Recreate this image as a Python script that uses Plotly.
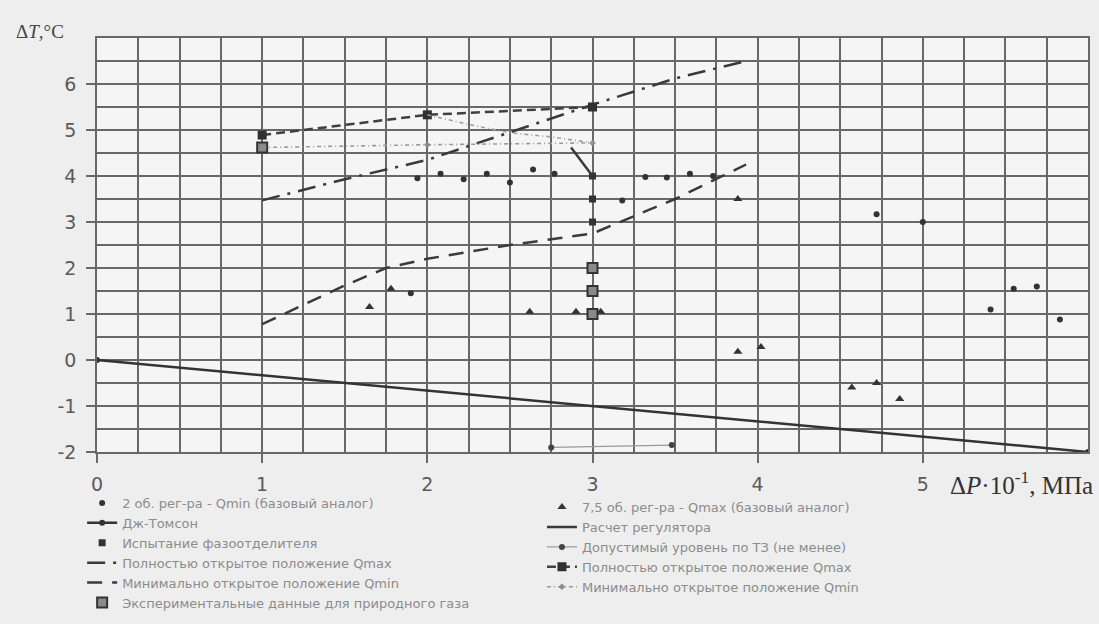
import plotly.graph_objects as go

# ---------------- data ----------------
# 2 об. рег-ра - Qmin (базовый аналог)
dots_x = [1.9, 1.94, 2.08, 2.22, 2.36, 2.5, 2.64, 2.77, 3.18, 3.32, 3.45, 3.59, 3.73, 4.72, 5.0, 5.41, 5.55, 5.69, 5.83]
dots_y = [1.45, 3.95, 4.05, 3.93, 4.05, 3.86, 4.14, 4.05, 3.47, 3.98, 3.97, 4.05, 4.0, 3.17, 3.0, 1.1, 1.55, 1.6, 0.88]
# 7,5 об. рег-ра - Qmax (базовый аналог)
tri_x = [1.65, 1.78, 2.62, 2.9, 3.05, 3.88, 3.88, 4.02, 4.57, 4.72, 4.86]
tri_y = [1.15, 1.55, 1.05, 1.05, 1.05, 3.5, 0.18, 0.28, -0.6, -0.5, -0.85]
# Дж-Томсон
jt_x = [0, 6]
jt_y = [0, -2]
# Расчет регулятора
calc_x = [2.87, 3.0]
calc_y = [4.62, 4.0]
# Испытание фазоотделителя
sep_x = [3, 3, 3]
sep_y = [4.0, 3.5, 3.0]
# Допустимый уровень по ТЗ (не менее)
lvl_x = [2.75, 3.48]
lvl_y = [-1.9, -1.85]
# Полностью открытое положение Qmax (штрих-пунктир)
qmaxdd_x = [1.0, 1.5, 2.0, 2.5, 3.0, 3.5, 3.93]
qmaxdd_y = [3.47, 3.93, 4.35, 4.95, 5.55, 6.12, 6.5]
# Минимально открытое положение Qmin (штрих)
qmind_x = [1.0, 1.5, 1.75, 2.0, 2.5, 3.0, 3.5, 3.93]
qmind_y = [0.78, 1.62, 2.0, 2.2, 2.5, 2.75, 3.5, 4.25]
# Полностью открытое положение Qmax (маркеры)
qmaxm_x = [1, 2, 3]
qmaxm_y = [4.89, 5.33, 5.5]
# Минимально открытое положение Qmin (маркеры)
qminm_x = [1, 2, 3]
qminm_y = [4.62, 4.68, 4.72]
# дополнительная светлая линия
extra_x = [2, 2.25, 2.5, 2.75, 3]
extra_y = [5.33, 5.12, 4.94, 4.85, 4.72]
# Экспериментальные данные для природного газа
exp_x = [1, 3, 3, 3]
exp_y = [4.62, 2.0, 1.5, 1.0]

x_ticks = [0, 1, 2, 3, 4, 5]
x_ticklabels = ["0", "1", "2", "3", "4", "5"]
y_ticks = [-2, -1, 0, 1, 2, 3, 4, 5, 6]
y_ticklabels = ["-2", "-1", "0", "1", "2", "3", "4", "5", "6"]

DARK = "#333333"
GRID = "#686868"
BG = "#eeeeee"

fig = go.Figure()

# ---- left legend column ----
fig.add_trace(go.Scatter(x=dots_x, y=dots_y, mode="markers", name="2 об. рег-ра - Qmin (базовый аналог)",
                         marker=dict(symbol="circle", size=6, color=DARK), legend="legend"))
fig.add_trace(go.Scatter(x=jt_x, y=jt_y, mode="lines+markers", name="Дж-Томсон",
                         line=dict(color=DARK, width=2.5), marker=dict(symbol="circle", size=6, color=DARK),
                         legend="legend"))
fig.add_trace(go.Scatter(x=sep_x, y=sep_y, mode="markers", name="Испытание фазоотделителя",
                         marker=dict(symbol="square", size=7, color=DARK), legend="legend"))
fig.add_trace(go.Scatter(x=qmaxdd_x, y=qmaxdd_y, mode="lines", name="Полностью открытое положение Qmax",
                         line=dict(color="#3a3a3a", width=2.5, dash="18px,8px,3px,8px"), legend="legend"))
fig.add_trace(go.Scatter(x=qmind_x, y=qmind_y, mode="lines", name="Минимально открытое положение Qmin",
                         line=dict(color="#3a3a3a", width=2.5, dash="15px,10px"), legend="legend"))
fig.add_trace(go.Scatter(x=exp_x, y=exp_y, mode="markers", name="Экспериментальные данные для природного газа",
                         marker=dict(symbol="square", size=10, color="#8a8a8a", line=dict(color=DARK, width=2)),
                         legend="legend"))

# ---- right legend column ----
fig.add_trace(go.Scatter(x=tri_x, y=tri_y, mode="markers", name="7,5 об. рег-ра - Qmax (базовый аналог)",
                         marker=dict(symbol="triangle-up", size=8, color=DARK), legend="legend2"))
fig.add_trace(go.Scatter(x=calc_x, y=calc_y, mode="lines", name="Расчет регулятора",
                         line=dict(color="#3a3a3a", width=2.5), legend="legend2"))
fig.add_trace(go.Scatter(x=lvl_x, y=lvl_y, mode="lines+markers", name="Допустимый уровень по ТЗ (не менее)",
                         line=dict(color="#9a9a9a", width=1.2), marker=dict(symbol="circle", size=6, color="#444444"),
                         legend="legend2"))
fig.add_trace(go.Scatter(x=qmaxm_x, y=qmaxm_y, mode="lines+markers", name="Полностью открытое положение Qmax",
                         line=dict(color="#404040", width=2.5, dash="9px,5px"),
                         marker=dict(symbol="square", size=9, color="#303030"), legend="legend2"))
fig.add_trace(go.Scatter(x=qminm_x, y=qminm_y, mode="lines+markers", name="Минимально открытое положение Qmin",
                         line=dict(color="#9a9a9a", width=1.6, dash="4px,3px,1px,3px"),
                         marker=dict(symbol="diamond", size=5, color="#8a8a8a"), legend="legend2"))
fig.add_trace(go.Scatter(x=extra_x, y=extra_y, mode="lines", showlegend=False,
                         line=dict(color="#a0a0a0", width=1.6, dash="4px,3px,1px,3px")))

axis_common = dict(showline=True, linecolor=GRID, linewidth=1.6, mirror=True,
                   showgrid=True, gridcolor=GRID, gridwidth=1.5, zeroline=False,
                   ticks="outside", ticklen=9, tickwidth=1.5, tickcolor=GRID,
                   tickfont=dict(family="DejaVu Sans", size=19, color="#5a5a5a"))

fig.update_xaxes(range=[0, 6], tickmode="array", tickvals=x_ticks, ticktext=x_ticklabels,
                 minor=dict(dtick=0.25, tick0=0, showgrid=True, gridcolor=GRID, gridwidth=1.5, ticks=""),
                 ticklabelstandoff=5, **axis_common)
fig.update_yaxes(range=[-2, 7], tickmode="array", tickvals=y_ticks, ticktext=y_ticklabels,
                 minor=dict(dtick=0.5, tick0=0, showgrid=True, gridcolor=GRID, gridwidth=1.5, ticks=""),
                 ticklabelstandoff=6, **axis_common)

legend_font = dict(family="DejaVu Sans", size=13, color="#8c8c8c")
fig.update_layout(
    width=1099, height=624,
    margin=dict(l=97, r=11, t=38, b=172, autoexpand=False),
    paper_bgcolor=BG, plot_bgcolor="#f5f5f5",
    legend=dict(x=-0.015, y=-0.087, xanchor="left", yanchor="top", bgcolor="rgba(0,0,0,0)",
                font=legend_font, tracegroupgap=0),
    legend2=dict(x=0.449, y=-0.097, xanchor="left", yanchor="top", bgcolor="rgba(0,0,0,0)",
                 font=legend_font, tracegroupgap=0),
    annotations=[
        dict(text="Δ<i>T</i>,°C", xref="paper", yref="paper", x=-0.058, y=1.016,
             xanchor="center", yanchor="middle", showarrow=False,
             font=dict(family="Liberation Serif", size=19, color="#444444")),
        dict(text="Δ<i>P</i>·10<sup>-1</sup>, МПа", xref="paper", yref="paper", x=1.007, y=-0.075,
             xanchor="right", yanchor="middle", showarrow=False,
             font=dict(family="Liberation Serif", size=25, color="#333333")),
    ],
)

fig.write_html("out.html", config={"displayModeBar": False},
               post_script="document.body.style.margin='0px';document.body.style.background='%s';" % BG)
